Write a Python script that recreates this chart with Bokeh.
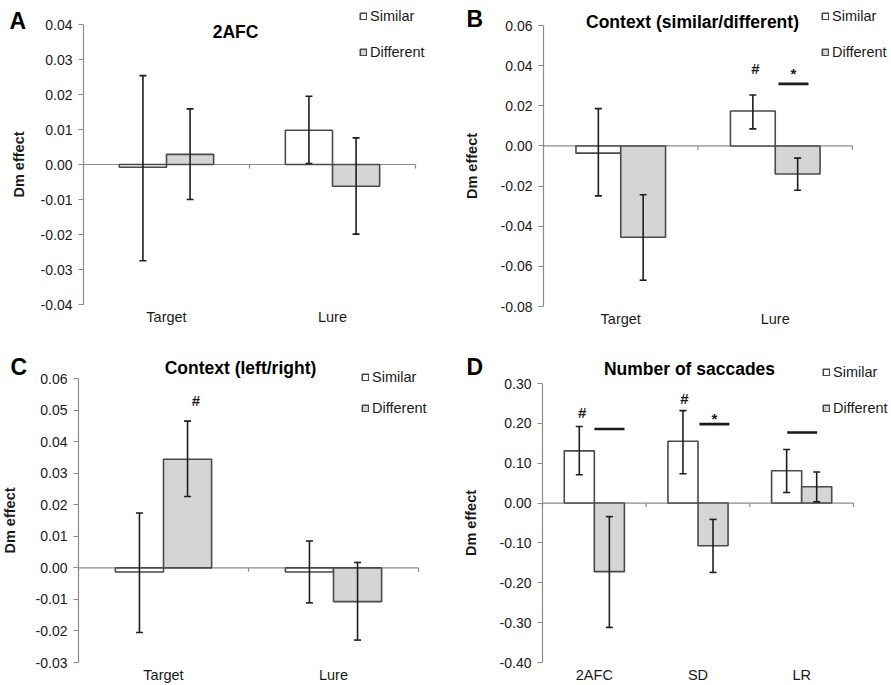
from bokeh.plotting import figure
from bokeh.models import (Range1d, FixedTicker, Whisker, TeeHead, ColumnDataSource,
                          Legend, LegendItem, Label, PrintfTickFormatter)
from bokeh.layouts import gridplot
from bokeh.core.properties import value
from bokeh.embed import file_html
from bokeh.resources import INLINE

FONT = "Liberation Sans"

# ---------------- data ----------------
# Panel A: 2AFC
a_cats = ["Target", "Lure"]
a_sim = [-0.0008, 0.0098]
a_sim_lo = [-0.0275, 0.0003]
a_sim_hi = [0.0254, 0.0195]
a_diff = [0.0029, -0.0062]
a_diff_lo = [-0.0100, -0.0199]
a_diff_hi = [0.0159, 0.0076]
a_yticks = [-0.04, -0.03, -0.02, -0.01, 0.0, 0.01, 0.02, 0.03, 0.04]

# Panel B: Context (similar/different)
b_cats = ["Target", "Lure"]
b_sim = [-0.0036, 0.0174]
b_sim_lo = [-0.0249, 0.0085]
b_sim_hi = [0.0186, 0.0254]
b_diff = [-0.0455, -0.0140]
b_diff_lo = [-0.0669, -0.0221]
b_diff_hi = [-0.0243, -0.0061]
b_yticks = [-0.08, -0.06, -0.04, -0.02, 0.0, 0.02, 0.04, 0.06]
b_marks = ["#", "*"]
b_mark_x = [1.372, 1.618]
b_mark_y = [0.0384, 0.0359]
b_sig_x0 = [1.521]
b_sig_x1 = [1.715]
b_sig_y = [0.0309]

# Panel C: Context (left/right)
c_cats = ["Target", "Lure"]
c_sim = [-0.0013, -0.0013]
c_sim_lo = [-0.0205, -0.0111]
c_sim_hi = [0.0174, 0.0085]
c_diff = [0.0344, -0.0107]
c_diff_lo = [0.0226, -0.0229]
c_diff_hi = [0.0465, 0.0017]
c_yticks = [-0.03, -0.02, -0.01, 0.0, 0.01, 0.02, 0.03, 0.04, 0.05, 0.06]
c_marks = ["#"]
c_mark_x = [0.69]
c_mark_y = [0.0529]

# Panel D: Number of saccades
d_cats = ["2AFC", "SD", "LR"]
d_sim = [0.131, 0.155, 0.081]
d_sim_lo = [0.071, 0.0735, 0.0267]
d_sim_hi = [0.192, 0.232, 0.1345]
d_diff = [-0.172, -0.107, 0.041]
d_diff_lo = [-0.312, -0.174, 0.003]
d_diff_hi = [-0.034, -0.041, 0.078]
d_yticks = [-0.40, -0.30, -0.20, -0.10, 0.0, 0.10, 0.20, 0.30]
d_marks = ["#", "#", "*"]
d_mark_x = [0.383, 1.369, 1.659]
d_mark_y = [0.228, 0.263, 0.2115]
d_sig_x0 = [0.501, 1.514, 2.36]
d_sig_x1 = [0.791, 1.803, 2.649]
d_sig_y = [0.186, 0.198, 0.177]

AXIS_C = "#8c8c8c"
BAR_LINE = "#4a4a4a"
DIFF_FILL = "#d5d5d5"
ERR_C = "#1e1e1e"
TXT = "#1a1a1a"


def make_panel(letter, title, cats, sim, sim_lo, sim_hi, diff, diff_lo, diff_hi,
               yticks, fmt, width, height, origin, plot_x, plot_y, bw,
               ylab_standoff, xlab_standoff, leg_pos, leg_spacing, letter_pos, title_pos,
               marks=None, sig=None):
    """origin: page position of the figure; plot_x: page x of the category axis
    start/end; plot_y: page y of top and bottom y ticks."""
    n = len(cats)
    ox, oy = origin
    x0p, x1p = plot_x
    ytp, ybp = plot_y
    ytop, ybot = yticks[-1], yticks[0]
    sx = (x1p - x0p) / n
    sy = (ybp - ytp) / (ytop - ybot)
    xr = Range1d((ox - x0p) / sx, (ox + width - x0p) / sx)
    yr = Range1d(ybot - (oy + height - ybp) / sy, ytop + (ytp - oy) / sy)

    p = figure(width=width, height=height, x_range=xr, y_range=yr,
               output_backend="svg", toolbar_location=None,
               min_border_left=0, min_border_right=0, min_border_top=0, min_border_bottom=0)
    p.outline_line_color = None
    p.xgrid.visible = False
    p.ygrid.visible = False
    p.background_fill_color = "white"
    p.border_fill_color = "white"

    # y axis, drawn at x = 0 and limited to the tick span
    ya = p.yaxis[0]
    ya.fixed_location = 0
    ya.bounds = (ybot, ytop)
    ya.ticker = FixedTicker(ticks=yticks)
    ya.formatter = PrintfTickFormatter(format=fmt)
    ya.axis_line_color = AXIS_C
    ya.axis_line_width = 1.2
    ya.major_tick_line_color = AXIS_C
    ya.major_tick_line_width = 1.2
    ya.major_tick_in = 0
    ya.major_tick_out = 5
    ya.minor_tick_line_color = None
    ya.major_label_standoff = 6
    ya.major_label_text_font = FONT
    ya.major_label_text_font_size = "14px"
    ya.major_label_text_color = TXT
    ya.axis_label = "Dm effect"
    ya.axis_label_text_font = FONT
    ya.axis_label_text_font_size = "14.5px"
    ya.axis_label_text_font_style = "bold"
    ya.axis_label_text_color = TXT
    ya.axis_label_standoff = ylab_standoff

    # x axis: category labels under the bottom of the value axis
    xa = p.xaxis[0]
    xa.fixed_location = ybot
    centers = [i + 0.5 for i in range(n)]
    xa.ticker = FixedTicker(ticks=centers)
    xa.major_label_overrides = {c: cat for c, cat in zip(centers, cats)}
    xa.axis_line_color = None
    xa.major_tick_line_color = None
    xa.minor_tick_line_color = None
    xa.major_tick_in = 0
    xa.major_tick_out = 0
    xa.major_label_standoff = xlab_standoff
    xa.major_label_text_font = FONT
    xa.major_label_text_font_size = "14.5px"
    xa.major_label_text_color = TXT

    # zero line with category-boundary ticks
    p.segment(x0=[0], y0=[0], x1=[n], y1=[0], line_color=AXIS_C, line_width=1.2)
    tick_len = 4.0 / sy
    bnd = list(range(n + 1))
    p.segment(x0=bnd, y0=[0] * len(bnd), x1=bnd, y1=[-tick_len] * len(bnd),
              line_color=AXIS_C, line_width=1.2)

    sim_src = ColumnDataSource(dict(x=[i + 0.5 - bw / 2 for i in range(n)], top=sim,
                                    lo=sim_lo, hi=sim_hi))
    diff_src = ColumnDataSource(dict(x=[i + 0.5 + bw / 2 for i in range(n)], top=diff,
                                     lo=diff_lo, hi=diff_hi))
    r1 = p.vbar(x="x", top="top", bottom=0, width=bw, source=sim_src,
                fill_color="white", line_color=BAR_LINE, line_width=1.6)
    r2 = p.vbar(x="x", top="top", bottom=0, width=bw, source=diff_src,
                fill_color=DIFF_FILL, line_color=BAR_LINE, line_width=1.6)

    for src in (sim_src, diff_src):
        p.add_layout(Whisker(source=src, base="x", upper="hi", lower="lo", level="overlay",
                             line_color=ERR_C, line_width=1.6,
                             upper_head=TeeHead(size=7, line_color=ERR_C, line_width=1.6),
                             lower_head=TeeHead(size=7, line_color=ERR_C, line_width=1.6)))

    if marks is not None:
        mt, mx, my = marks
        p.text(x=mx, y=my, text=mt, text_font=value(FONT), text_font_style="bold",
               text_font_size="15px", text_align="center", text_baseline="middle",
               text_color=TXT)
    if sig is not None:
        sx0, sx1, sy_ = sig
        p.segment(x0=sx0, y0=sy_, x1=sx1, y1=sy_, line_color=TXT, line_width=2.6)

    legend = Legend(items=[LegendItem(label="Similar", renderers=[r1]),
                           LegendItem(label="Different", renderers=[r2])],
                    location=(leg_pos[0] - ox, oy + height - leg_pos[1]),
                    orientation="vertical", padding=0, margin=0, spacing=leg_spacing,
                    glyph_width=8, glyph_height=8, label_height=20, label_standoff=3,
                    label_text_font=FONT, label_text_font_size="14.5px",
                    label_text_color=TXT, border_line_color=None,
                    background_fill_alpha=0)
    p.add_layout(legend)

    def lab(text, px, py, size, align="center", bold=True):
        p.add_layout(Label(x=px - ox, y=oy + height - py, x_units="screen", y_units="screen",
                           text=text, text_font=FONT, text_font_size=size,
                           text_font_style="bold" if bold else "normal",
                           text_align=align, text_baseline="middle", text_color="black"))

    lab(letter, letter_pos[0], letter_pos[1], "23px", align="left")
    lab(title, title_pos[0], title_pos[1], "17.5px")
    return p


# figure placement on the page (the page itself has no margin)
W1, W2 = 445, 445
H1, H2 = 340, 344

pA = make_panel("A", "2AFC", a_cats, a_sim, a_sim_lo, a_sim_hi, a_diff, a_diff_lo, a_diff_hi,
                a_yticks, "%.2f", W1, H1, (0, 0), (83, 415), (24, 304), 0.284,
                11, 4, (359, 62), 16, (9, 20.5), (235, 31.5))
pB = make_panel("B", "Context (similar/different)", b_cats, b_sim, b_sim_lo, b_sim_hi,
                b_diff, b_diff_lo, b_diff_hi, b_yticks, "%.2f", W2, H1, (W1, 0),
                (543, 852), (25, 306), 0.29, 18, 4, (821, 62), 16, (466, 18.5), (692, 21.7),
                marks=(b_marks, b_mark_x, b_mark_y), sig=(b_sig_x0, b_sig_x1, b_sig_y))
pC = make_panel("C", "Context (left/right)", c_cats, c_sim, c_sim_lo, c_sim_hi,
                c_diff, c_diff_lo, c_diff_hi, c_yticks, "%.2f", W1, H2, (0, H1),
                (78, 418), (378, 662), 0.283, 15, 4, (361, 418), 11, (10, 366.3), (240, 367),
                marks=(c_marks, c_mark_x, c_mark_y))
pD = make_panel("D", "Number of saccades", d_cats, d_sim, d_sim_lo, d_sim_hi,
                d_diff, d_diff_lo, d_diff_hi, d_yticks, "%.2f", W2, H2, (W1, H1),
                (542, 853), (383, 662), 0.29, 18, 4, (822, 418), 16, (466, 366.7), (689, 368.3),
                marks=(d_marks, d_mark_x, d_mark_y), sig=(d_sig_x0, d_sig_x1, d_sig_y))

grid = gridplot([[pA, pB], [pC, pD]], toolbar_location=None)

open("out.html", "w").write(file_html(grid, INLINE))
